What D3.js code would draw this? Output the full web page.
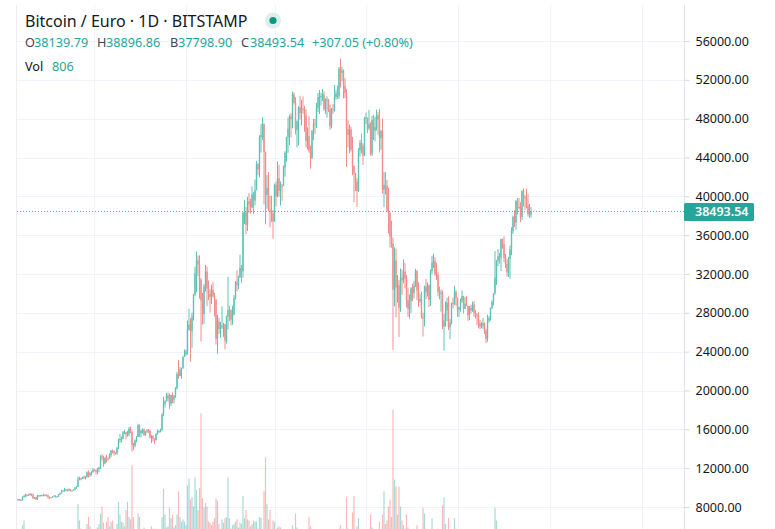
<!DOCTYPE html>
<html><head><meta charset="utf-8">
<script src="https://cdn.jsdelivr.net/npm/d3@7"></script>
<style>
html,body{margin:0;padding:0;background:#fff;overflow:hidden;}
svg{display:block;}
text{font-family:"Noto Sans",sans-serif;}
</style></head><body>
<svg id="c" width="775" height="529"></svg>
<script>
// ---------------- DATA (BTC/EUR, Bitstamp, daily, 2020-09-11 .. 2021-08-19) ----------------
const startDate = "2020-09-11";
const endDate = "2021-08-19";

const open = [
// Sep
8730,8810,8720,8710,9010,9100,9260,9240,9230,9360,9220,8890,9000,8770,9210,9160,9190,9240,9150,9260,
// Oct
9190,9040,9000,8980,9080,9180,9020,9080,9290,9410,9610,9680,9840,9730,9730,9810,9660,9700,9820,10000,10080,10830,10960,10930,11070,11010,11060,11560,11300,11480,11610,
// Nov
11810,11790,11640,11920,12060,13200,13120,12490,13040,12990,12960,13330,13820,13800,13580,13490,14100,14880,15020,15010,15690,15700,15480,15510,16060,15710,14390,14320,14830,15210,
// Dec
16410,15580,15850,16010,15420,15790,15950,15850,15140,15330,15040,14890,15500,15780,15840,15980,17470,18620,18890,19490,19170,18630,19540,19080,19470,20230,21690,21500,22160,22340,23450,
// Jan
23730,24040,26250,26780,26100,27630,29890,32090,33390,32990,31440,29270,27870,30720,32250,30490,29950,29630,30350,29740,29380,25350,27120,26350,26530,26660,26810,25130,27620,28290,28250,
// Feb
27300,27810,29490,31120,30880,31680,32620,32280,38340,38350,37060,39500,39190,38870,40200,39560,40630,43310,42780,46110,46290,47480,44580,40180,40870,38540,38360,38240,
// Mar
37400,41190,40020,41870,40570,41080,41070,43000,44500,46070,46950,48250,47970,50500,49620,46860,47730,49180,48580,49030,49000,48340,45710,46190,44680,43930,46770,47470,47460,49110,50230,
// Apr
50230,50340,50490,48980,49970,49970,48980,47220,48970,48950,50240,50590,50290,53140,52720,52940,51390,50650,46930,46320,46900,44810,43100,42360,41500,40560,44720,45520,45190,44190,
// May
48050,48110,47000,47430,44410,47850,46770,47130,48360,47890,46010,46710,40690,41160,41090,38520,38270,35830,35110,30380,33370,30620,30820,28520,31630,31350,32230,31530,29290,28400,29270,
// Jun
30520,30020,30780,32310,30290,29210,29440,27520,27430,30700,30130,30830,29360,32290,33180,33340,31960,31920,30150,30010,30080,26600,27220,28240,29050,26500,26960,29020,28880,30170,
// Jul
29540,28330,28580,29230,29740,28430,28940,28720,27770,28480,28240,28850,27960,27760,27740,26910,26600,26700,26930,26120,25310,27210,27450,28530,29130,30030,31640,33370,33810,33680,35590,
// Aug
35070,33670,33030,32170,33570,34520,36410,37890,37280,39530,38900,38830,37880,40530,39920,39870,39050,38170,38139.79
];

const high = [
8840,8840,8810,9110,9230,9370,9320,9320,9430,9370,9380,9030,9050,9250,9220,9240,9250,9370,9280,9280,
9290,9070,9020,9100,9190,9190,9100,9320,9450,9770,9730,9960,9840,9830,9920,9850,9730,9830,10040,10170,11140,11120,11010,11120,11250,11190,11670,11780,11630,11690,12020,
11920,11870,12020,12150,13340,13450,13290,13190,13390,13100,13520,13860,13920,13800,13630,14170,15040,15520,15250,15830,15940,15750,15840,16260,16280,15870,14590,14950,15300,16570,
16500,15950,16100,16080,15800,16000,16020,15940,15400,15380,15060,15610,15980,15880,16070,17670,19350,19000,19730,19800,19680,19570,19790,19520,20340,21920,23150,22410,22340,23530,24220,
24220,27210,28410,27430,28000,29940,32750,34330,33890,33920,31550,30040,30960,32920,32770,31340,30460,30900,31200,30070,29240,27800,27480,27070,28670,26960,26870,27720,31720,28720,28400,
28720,29820,31280,32360,31820,34000,32940,38340,39600,38890,39950,40350,39750,41020,40460,41730,43650,43450,46300,47440,48150,47330,44590,42190,42510,40040,40070,38590,
41310,41520,43600,43240,41530,41280,43170,44650,46130,48110,48410,48570,50800,50700,50200,47820,49280,50380,49950,50300,49330,48960,47110,48260,45220,46770,47970,47970,49630,50640,50950,
50660,51050,50820,50090,50300,50020,49450,49100,49510,51490,50970,51420,53320,54190,53340,53060,52170,51030,47840,47380,47170,46120,43180,42420,41850,44950,45810,46460,45460,48190,
48630,48070,48900,47630,48270,48390,48190,48930,48690,49020,46860,48010,42490,42490,41710,40900,38390,37480,35740,34750,34620,31880,31370,32570,32470,33500,33120,31900,30600,29880,30650,
31010,31300,32530,32400,31160,29970,30180,27970,30800,31480,31130,30900,32470,33880,34080,33730,33160,32180,30690,30400,30300,27890,29190,29550,29700,27370,29060,29560,30780,30370,
29560,28620,29460,30300,29730,29620,29740,28650,28700,28840,29150,29210,28270,27970,28060,27290,27040,27460,27020,26340,27810,27660,28550,29300,30040,34360,33430,34560,34180,35640,35650,
35890,34050,33520,33750,34930,36810,38010,38560,39600,39820,39810,39390,40620,40810,40140,40790,40260,39250,38896.86
];

const low = [
8620,8670,8610,8670,8980,9010,9070,9130,9190,9100,8840,8850,8700,8740,9040,9120,9100,9110,9100,9090,
8880,8830,8940,8960,9040,8980,9010,9050,9230,9410,9610,9560,9610,9620,9620,9600,9660,9700,9720,9880,10060,10750,10750,10890,10910,10830,11050,11040,11090,11250,11520,
11690,11370,11360,11550,11940,12810,12150,12400,12580,12780,12960,13120,13520,13290,13420,13380,13970,14630,14630,14980,15530,14950,15240,15280,15620,13720,13860,14130,14690,15200,
15190,15150,15570,15330,15330,15610,15620,15070,14590,14750,14520,14860,15470,15640,15690,15800,17360,18240,18890,18860,18100,18400,18700,18650,19250,20120,21210,21470,21220,22240,23570,
23570,23690,26180,22960,24390,27200,29740,30140,31780,29470,25040,26790,26870,30210,28690,29310,28020,28900,29580,27620,24730,23790,25830,25440,26350,25500,24220,24840,26300,27160,26710,
26780,27760,29370,30230,30430,31580,31080,31620,37130,36120,36440,38300,38220,38800,38160,39060,40680,42150,41940,44510,45810,39160,37120,38730,38460,36800,37340,35640,
37390,38960,39890,39950,39050,39540,41080,42030,43570,44480,45280,46070,47000,49460,46380,45040,45250,47920,47290,48520,46660,45040,44830,44500,42850,43830,45770,46400,47020,48680,48480,
49350,49820,48790,48470,48100,48670,46860,47000,48500,48740,49960,50040,50040,51210,51860,50080,50120,43030,45050,44440,44600,42170,39400,40550,38910,40460,44100,44430,43230,44140,
47460,46510,46830,44180,44160,45800,45680,46780,46310,44510,44800,40290,38890,40200,38420,36160,34730,34700,24200,28680,27530,29050,25520,28100,29860,31040,30520,28550,27600,27400,27990,
29190,29470,30650,29330,28620,29000,27420,25560,26600,29430,29670,28600,28710,31980,32620,31810,31400,29700,29380,28120,26310,24120,26580,27120,26230,25280,26810,28460,28810,28700,
27600,27570,28120,29010,27940,28390,28690,27170,27240,27940,28110,27590,27400,26730,26420,26330,26410,26340,25830,24870,25030,26990,27190,28380,28790,29860,30870,32810,33080,32310,34610,
33230,32620,31740,31690,31530,33930,36130,36830,36560,38140,38640,37340,37550,38960,38600,38780,37920,37780,37798.90
];

const close = [
8810,8720,8710,9010,9100,9260,9240,9230,9360,9220,8890,9000,8770,9210,9160,9190,9240,9150,9260,9190,
9040,9000,8980,9080,9180,9020,9080,9290,9410,9610,9680,9840,9730,9730,9810,9660,9700,9820,10000,10080,10830,10960,10930,11070,11010,11060,11560,11300,11480,11610,11810,
11790,11640,11920,12060,13200,13120,12490,13040,12990,12960,13330,13820,13800,13580,13490,14100,14880,15020,15010,15690,15700,15480,15510,16060,15710,14390,14320,14830,15210,16410,
15580,15850,16010,15420,15790,15950,15850,15140,15330,15040,14890,15500,15780,15840,15980,17470,18620,18890,19490,19170,18630,19540,19080,19470,20230,21690,21500,22160,22340,23450,23730,
24040,26250,26780,26100,27630,29890,32090,33390,32990,31440,29270,27870,30720,32250,30490,29950,29630,30350,29740,29380,25350,27120,26350,26530,26660,26810,25130,27620,28290,28250,27300,
27810,29490,31120,30880,31680,32620,32280,38340,38350,37060,39500,39190,38870,40200,39560,40630,43310,42780,46110,46290,47480,44580,40180,40870,38540,38360,38240,37400,
41190,40020,41870,40570,41080,41070,43000,44500,46070,46950,48250,47970,50500,49620,46860,47730,49180,48580,49030,49000,48340,45710,46190,44680,43930,46770,47470,47460,49110,50230,50230,
50340,50490,48980,49970,49970,48980,47220,48970,48950,50240,50590,50290,53140,52720,52940,51390,50650,46930,46320,46900,44810,43100,42360,41500,40560,44720,45520,45190,44190,48050,
48110,47000,47430,44410,47850,46770,47130,48360,47890,46010,46710,40690,41160,41090,38520,38270,35830,35110,30380,33370,30620,30820,28520,31630,31350,32230,31530,29290,28400,29270,30520,
30020,30780,32310,30290,29210,29440,27520,27430,30700,30130,30830,29360,32290,33180,33340,31960,31920,30150,30010,30080,26600,27220,28240,29050,26500,26960,29020,28880,30170,29540,
28330,28580,29230,29740,28430,28940,28720,27770,28480,28240,28850,27960,27760,27740,26910,26600,26700,26930,26120,25310,27210,27450,28530,29130,30030,31640,33370,33810,33680,35590,35070,
33670,33030,32170,33570,34520,36410,37890,37280,39530,38900,38830,37880,40530,39920,39870,39050,38170,38186.49,38493.54
];

const volume = [
1400,900,1100,2300,2700,1700,1500,1300,1000,1100,1900,1200,1500,1600,1200,700,800,1300,1100,1000,
1600,1500,600,700,1000,1200,900,1400,1500,1300,800,1400,1300,1100,1200,1300,600,600,1400,1800,4100,2700,2000,1300,1200,1900,2400,3000,2200,1900,1300,
1100,1700,2100,2400,3300,3900,2500,1800,2600,3000,2200,2600,2700,1700,1400,2400,4300,3200,2600,2500,2200,3600,4300,3000,2800,7450,3000,1900,1800,3300,
3000,2000,1700,2100,1200,1000,1300,1900,2200,1600,2000,1300,1300,1100,1500,3000,5400,3200,2100,2200,3800,2900,3200,2100,2300,3200,5200,3000,2600,2800,2600,
2300,5700,6300,4500,4700,3900,6400,5300,3600,5500,11900,4600,3800,4200,3900,2600,2500,2300,2600,2900,4600,4400,2400,1900,2800,2500,2900,3000,6400,2900,2000,
2300,2400,2600,2800,2100,2500,2400,4800,2900,3600,2800,2700,2200,2400,2700,2600,2600,2000,3000,2900,1900,5200,8100,4100,2800,3600,1700,2700,
2600,1900,2100,2200,2100,1300,1400,1800,1700,1900,1800,1900,2300,1200,3300,2100,1800,1600,1300,1000,1100,1700,1600,3000,2200,1500,900,800,1400,1200,1400,
1100,1000,1100,800,1200,1100,1800,1200,900,1300,800,1200,2000,2300,1400,2000,1300,4700,2000,1900,1700,3400,4800,1600,2200,2900,1800,1700,1500,1800,
1100,1000,1400,3200,2100,1700,1600,1400,1600,2600,1900,3200,5200,2400,2700,3900,4500,3000,12200,6200,5600,3200,5600,3900,2700,2300,2000,3200,2100,1400,1900,
1800,1500,1800,2300,1600,1000,1900,3800,3300,2000,1500,1500,1700,2900,1900,1700,1500,2000,1200,1400,4000,4700,2400,1800,2900,1700,1300,1500,2900,1600,
1700,1300,900,900,1200,1200,1000,1400,1100,700,600,1000,1000,1100,1100,1000,500,500,900,1800,1900,1000,900,700,800,3800,2700,1900,1200,1500,900,
1100,1200,1300,1300,1800,1700,1600,1100,1700,1200,1000,1200,1500,1100,900,1100,1500,1200,806
];

const priceTicks = [8000,12000,16000,20000,24000,28000,32000,36000,40000,44000,48000,52000,56000];
const titleText = "Bitcoin / Euro · 1D · BITSTAMP";
const legendKeys = ["O","H","B","C"];
const legendValues = ["38139.79","38896.86","37798.90","38493.54"];
const changeText = "+307.05 (+0.80%)";
const volLabel = "Vol";
const volValue = "806";
const lastPrice = 38493.54;

// ---------------- DRAWING ----------------
const UP = "#26a69a", DOWN = "#ef5350";
const UP_C = "#5ec3b5", DOWN_C = "#f08e8c";
const svg = d3.select("#c");
const paneLeft = 16, paneRight = 685, paneTop = 5, paneBottom = 529;

const parse = d3.utcParse("%Y-%m-%d");
const t0 = parse(startDate), t1 = parse(endDate);
const dates = d3.utcDay.range(t0, d3.utcDay.offset(t1, 1));

const x = d3.scaleUtc().domain([t0, t1]).range([18, 531]);
const y = d3.scaleLinear().domain([8000, 56000]).range([507, 41]);
const yv = d3.scaleLinear().domain([0, 12000]).range([552, 412]);

// grid
const grid = svg.append("g").attr("stroke", "#f0f3fa").attr("stroke-width", 1);
grid.selectAll("line.h").data(priceTicks).join("line")
  .attr("x1", paneLeft).attr("x2", paneRight)
  .attr("y1", d => Math.round(y(d)) + 0.5).attr("y2", d => Math.round(y(d)) + 0.5);
const monthTicks = d3.utcMonth.every(2).range(d3.utcMonth.offset(t0, 1), d3.utcMonth.offset(t1, 4));
grid.selectAll("line.v").data(monthTicks).join("line")
  .attr("x1", d => Math.round(x(d)) + 0.5).attr("x2", d => Math.round(x(d)) + 0.5)
  .attr("y1", paneTop).attr("y2", paneBottom);
grid.append("line").attr("x1", paneLeft + 0.5).attr("x2", paneLeft + 0.5)
  .attr("y1", paneTop).attr("y2", paneBottom).attr("stroke", "#eceef3");

svg.append("clipPath").attr("id", "pane").append("rect")
  .attr("x", paneLeft).attr("y", paneTop).attr("width", paneRight - paneLeft).attr("height", paneBottom - paneTop);

const idx = d3.range(dates.length);
const isUp = i => close[i] >= open[i];

// volume
svg.append("g").attr("clip-path", "url(#pane)")
  .selectAll("rect").data(idx).join("rect")
  .attr("x", i => x(dates[i]) - 0.6)
  .attr("width", 1.2)
  .attr("y", i => yv(volume[i]))
  .attr("height", i => yv(0) - yv(volume[i]))
  .attr("fill", i => isUp(i) ? UP : DOWN)
  .attr("fill-opacity", 0.4);

// candles
const cg = svg.append("g").attr("clip-path", "url(#pane)");
cg.selectAll("line").data(idx).join("line")
  .attr("x1", i => x(dates[i])).attr("x2", i => x(dates[i]))
  .attr("y1", i => y(Math.max(high[i], open[i], close[i])))
  .attr("y2", i => y(Math.min(low[i], open[i], close[i])))
  .attr("stroke", i => isUp(i) ? UP_C : DOWN_C)
  .attr("stroke-width", 1);
cg.selectAll("rect").data(idx).join("rect")
  .attr("x", i => x(dates[i]) - 0.7)
  .attr("width", 1.4)
  .attr("y", i => y(Math.max(open[i], close[i])))
  .attr("height", i => Math.max(1, y(Math.min(open[i], close[i])) - y(Math.max(open[i], close[i]))))
  .attr("fill", i => isUp(i) ? UP_C : DOWN_C);

// last price dotted line
const yl = Math.round(y(lastPrice)) + 0.5;
svg.append("line").attr("x1", paneLeft + 1).attr("x2", paneRight)
  .attr("y1", yl).attr("y2", yl)
  .attr("stroke", "#4fb8aa").attr("stroke-width", 1).attr("stroke-dasharray", "1,2");

// price axis
svg.append("line").attr("x1", paneRight - 0.5).attr("x2", paneRight - 0.5)
  .attr("y1", paneTop).attr("y2", paneBottom).attr("stroke", "#e0e3eb");
const axis = d3.axisRight(y).tickValues(priceTicks).tickSize(5).tickPadding(6)
  .tickFormat(d3.format(".2f"));
const ag = svg.append("g").attr("transform", `translate(${paneRight - 0.5},0)`).call(axis);
ag.select(".domain").remove();
ag.selectAll(".tick line").attr("stroke", "#d6d9e0");
ag.selectAll(".tick text").attr("fill", "#131722").attr("font-size", 12.5)
  .attr("font-family", "'Noto Sans', sans-serif");

// last price label
svg.append("rect").attr("x", paneRight - 1).attr("y", yl - 8.5).attr("width", 70).attr("height", 18)
  .attr("rx", 1.5).attr("fill", UP);
svg.append("text").attr("x", 695).attr("y", yl + 4.5).attr("fill", "#fff")
  .attr("font-size", 12.5).attr("font-weight", 600).text(d3.format(".2f")(lastPrice));

// header
svg.append("text").attr("x", 25).attr("y", 26.5).attr("font-size", 16).attr("fill", "#131722").text(titleText);
svg.append("circle").attr("cx", 273).attr("cy", 20.5).attr("r", 8).attr("fill", "#dcefec");
svg.append("circle").attr("cx", 273).attr("cy", 20.5).attr("r", 3.6).attr("fill", "#089981");

const legX = [25, 97, 170, 241];
const valX = [34, 106, 178, 250];
legendKeys.forEach((k, j) => {
  svg.append("text").attr("x", legX[j]).attr("y", 47).attr("font-size", 12.7).attr("fill", "#434651").text(k);
  svg.append("text").attr("x", valX[j]).attr("y", 47).attr("font-size", 12.7).attr("fill", UP).text(legendValues[j]);
});
svg.append("text").attr("x", 312).attr("y", 47).attr("font-size", 12.7).attr("fill", UP).text(changeText);
svg.append("text").attr("x", 25).attr("y", 70.5).attr("font-size", 12.7).attr("fill", "#131722").text(volLabel);
svg.append("text").attr("x", 52).attr("y", 70.5).attr("font-size", 12.7).attr("fill", UP).text(volValue);
</script>
</body></html>
